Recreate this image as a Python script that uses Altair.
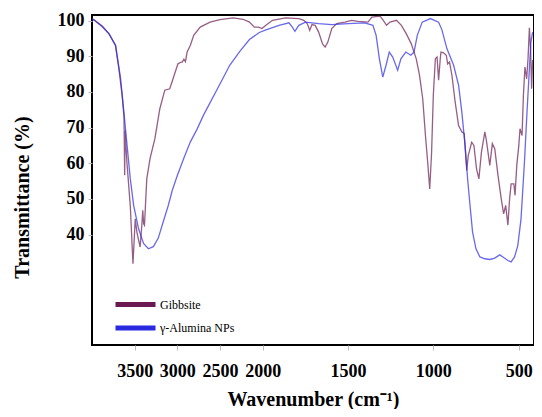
import altair as alt
import pandas as pd

series_names = ["Gibbsite", "γ-Alumina NPs"]

gib_wn = [4000, 3973, 3880, 3800, 3724, 3685, 3647, 3625, 3617, 3612,
          3605, 3590, 3551, 3520, 3493, 3474, 3436, 3416, 3405, 3395,
          3385, 3358, 3320, 3263, 3205, 3147, 3089, 3050, 2993, 2954,
          2943, 2923, 2905, 2885, 2847, 2808, 2732, 2616, 2501, 2346,
          2231, 2155, 2097, 2050, 2008, 1981, 1942, 1865, 1788, 1759,
          1739, 1724, 1711, 1692, 1672, 1649, 1634, 1618, 1595, 1566,
          1518, 1479, 1441, 1383, 1360, 1312, 1293, 1274, 1254, 1216,
          1187, 1158, 1129, 1100, 1081, 1062, 1046, 1033, 1021, 1010,
          1000, 988, 978, 969, 959, 955, 940, 924, 916, 905,
          891, 872, 852, 833, 819, 804, 795, 775, 762, 747,
          733, 718, 698, 689, 669, 654, 640, 621, 602, 588,
          576, 563, 553, 544, 528, 521, 511, 499, 492, 480,
          472, 463, 453, 445, 437, 430, 424, 418]
gib_t = [100.6, 100.2, 98.5, 96.3, 93.1, 86.5, 79.1, 73.0, 56.6, 69.2,
         66.0, 60.0, 48.0, 31.8, 44.4, 40.7, 36.5, 42.6, 46.8, 43.0,
         42.6, 55.6, 61.3, 66.9, 75.3, 80.5, 80.9, 83.7, 87.9, 88.4,
         88.4, 89.2, 88.5, 91.2, 93.1, 95.9, 98.2, 99.6, 100.3, 100.8,
         100.4, 99.6, 98.2, 98.2, 97.8, 98.7, 100.1, 100.8, 100.6, 100.1,
         99.2, 97.3, 98.9, 98.7, 96.8, 93.5, 92.6, 94.0, 97.8, 99.2,
         99.6, 100.1, 99.8, 99.6, 101.0, 101.3, 100.1, 98.7, 99.6, 100.1,
         98.7, 96.3, 93.5, 89.3, 84.7, 78.1, 67.8, 60.3, 52.8, 63.1,
         79.1, 89.3, 89.8, 83.3, 89.5, 91.2, 91.0, 90.3, 87.9, 88.4,
         84.7, 77.2, 70.6, 68.8, 68.3, 58.0, 62.2, 65.9, 65.0, 58.5,
         55.6, 63.1, 68.8, 66.4, 59.4, 65.5, 64.1, 56.6, 50.0, 45.8,
         48.2, 42.6, 50.0, 54.2, 54.2, 51.0, 59.4, 65.0, 69.7, 67.8,
         79.1, 87.0, 83.7, 89.3, 98.0, 92.1, 80.9, 89.0]

alu_wn = [4000, 3973, 3880, 3800, 3724, 3666, 3627, 3589, 3551, 3512,
          3454, 3396, 3339, 3281, 3223, 3166, 3108, 3058, 3001, 2923,
          2847, 2770, 2693, 2616, 2539, 2462, 2386, 2270, 2155, 2039,
          1981, 1904, 1846, 1826, 1811, 1788, 1749, 1672, 1595, 1499,
          1402, 1354, 1335, 1316, 1296, 1277, 1258, 1238, 1209, 1190,
          1161, 1132, 1113, 1094, 1065, 1017, 969, 950, 920, 881,
          852, 833, 814, 799, 785, 770, 750, 727, 698, 669,
          640, 611, 592, 563, 544, 524, 505, 486, 466, 451,
          437, 428, 418]
alu_t = [100.5, 100.1, 98.3, 96.3, 93.0, 84.0, 74.5, 65.0, 55.6, 48.2,
         41.6, 37.5, 36.0, 36.6, 39.0, 43.5, 48.0, 52.5, 56.5, 61.5,
         66.0, 69.5, 73.5, 77.0, 80.5, 84.0, 87.5, 91.3, 94.7, 96.7,
         97.4, 98.7, 99.4, 98.2, 97.0, 98.7, 99.6, 99.2, 98.9, 99.2,
         99.4, 98.7, 95.9, 89.3, 84.2, 87.5, 91.2, 89.8, 86.1, 89.3,
         91.2, 90.3, 91.2, 95.9, 99.6, 100.6, 99.6, 97.5, 92.1, 87.5,
         81.9, 74.4, 65.0, 55.6, 48.2, 40.7, 36.0, 33.7, 33.2, 33.0,
         33.4, 34.3, 33.7, 32.7, 32.3, 33.7, 36.9, 44.4, 60.3, 74.4,
         86.5, 94.0, 96.8]

x_tick_positions = [500, 1000, 1500, 2000, 3000, 4000, 5000]
y_ticks = [40, 50, 60, 70, 80, 90, 100]

rows = []
for w, t in zip(gib_wn, gib_t):
    rows.append({"series": series_names[0], "wn": w, "t": t})
for w, t in zip(alu_wn, alu_t):
    rows.append({"series": series_names[1], "wn": w, "t": t})
df = pd.DataFrame(rows)

FONT = "Liberation Serif"
label_expr = "datum.value <= 2000 ? 4000 - datum.value : 2000 - (datum.value - 2000) / 2"

chart = alt.Chart(df).transform_calculate(
    p="datum.wn >= 2000 ? 4000 - datum.wn : 2000 + 2 * (2000 - datum.wn)"
).mark_line(strokeWidth=1.3, opacity=0.7, clip=True).encode(
    x=alt.X("p:Q",
            scale=alt.Scale(domain=[0, 5180], nice=False, zero=False),
            axis=alt.Axis(values=x_tick_positions, labelExpr=label_expr,
                          title="Wavenumber (cm⁻¹)", grid=False, domain=False,
                          tickSize=5, tickColor="#bbbbbb", labelPadding=12,
                          labelFont=FONT, labelFontSize=18, labelFontWeight="bold",
                          labelColor="black", titleFont=FONT, titleFontSize=20,
                          titleFontWeight="bold", titleColor="black",
                          titleBaseline="alphabetic", titleY=60)),
    y=alt.Y("t:Q",
            scale=alt.Scale(domain=[9, 101.6], nice=False, zero=False),
            axis=alt.Axis(values=y_ticks, title="Transmittance (%)", grid=False,
                          domain=False, tickSize=4, tickColor="#bbbbbb",
                          labelPadding=4, labelFont=FONT, labelFontSize=18,
                          labelFontWeight="bold", labelColor="black",
                          titleFont=FONT, titleFontSize=20, titleFontWeight="bold",
                          titleColor="black", titleX=-60, titleY=182)),
    color=alt.Color("series:N",
                    scale=alt.Scale(domain=series_names, range=["#6a1a50", "#2a2ae0"]),
                    legend=alt.Legend(title=None, orient="none", legendX=31, legendY=277,
                                      symbolType="M-2,0H2", symbolSize=400,
                                      symbolStrokeWidth=5, symbolOpacity=1,
                                      labelFont=FONT, labelFontSize=12,
                                      labelColor="black", labelOffset=12,
                                      rowPadding=0.5, padding=0)),
).properties(
    width=442, height=330, autosize="none",
    padding={"left": 84, "top": 7, "right": 0, "bottom": 64},
).configure_view(stroke="black", strokeWidth=2)

chart.save("out.html", embed_options={"renderer": "svg", "actions": False})
